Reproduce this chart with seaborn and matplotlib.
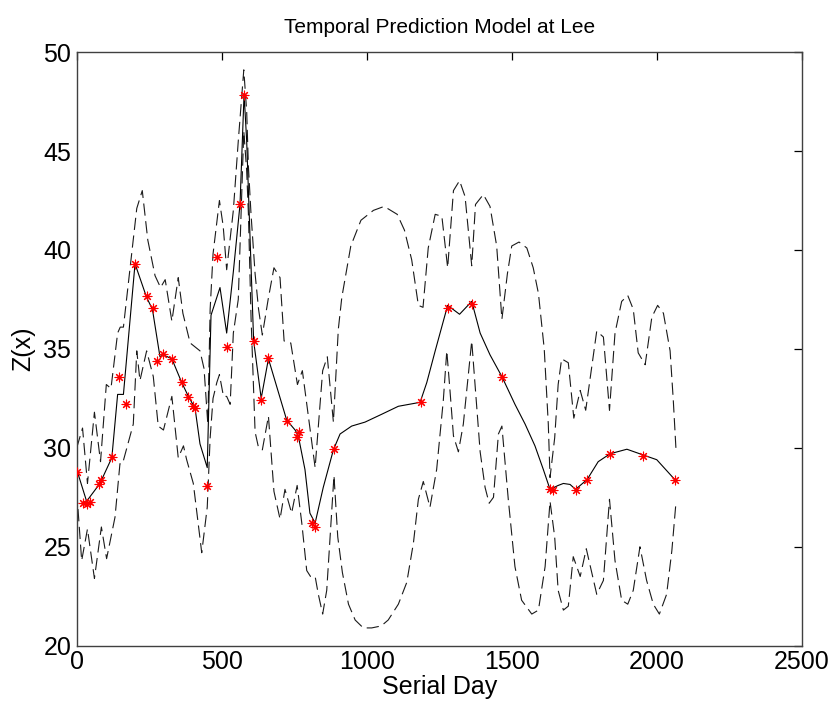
import matplotlib
matplotlib.use("Agg")
import matplotlib.pyplot as plt
import seaborn as sns

# Observed values (red asterisks)
obs_day = [0, 23, 35, 46, 78, 82, 121, 147, 170, 202, 242, 262, 276, 299, 329,
           363, 384, 402, 407, 450, 482, 519, 563, 577, 610, 637, 661, 726, 758,
           767, 810, 822, 887, 1187, 1279, 1363, 1467, 1632, 1643, 1720, 1760,
           1839, 1951, 2062]
obs_z = [28.8, 27.2, 27.15, 27.25, 28.15, 28.35, 29.55, 33.57, 32.2, 39.31, 37.68,
         37.07, 34.39, 34.73, 34.51, 33.33, 32.58, 32.1, 31.99, 28.08, 39.65, 35.08,
         42.34, 47.85, 35.42, 32.43, 34.53, 31.35, 30.56, 30.81, 26.21, 25.98, 29.93,
         32.32, 37.09, 37.29, 33.59, 27.91, 27.86, 27.86, 28.4, 29.68, 29.6, 28.37]

# Kriging prediction (solid line)
pred_day = [0, 34, 80, 121, 141, 161, 201, 241, 261, 287, 298, 328, 362, 385, 408,
            425, 450, 463, 494, 517, 540, 563, 577, 586, 610, 636, 661, 724, 753,
            764, 787, 804, 822, 850, 885, 908, 948, 994, 1052, 1109, 1184, 1207,
            1236, 1279, 1320, 1362, 1391, 1425, 1466, 1511, 1546, 1580, 1609, 1632,
            1660, 1678, 1701, 1720, 1760, 1798, 1839, 1897, 1951, 2000, 2062]
pred_z = [28.9, 27.3, 28.2, 29.5, 32.7, 32.7, 39.3, 37.6, 37.0, 34.6, 34.7, 34.5,
          33.3, 32.6, 32.0, 30.2, 29.0, 36.7, 38.1, 35.8, 38.9, 42.3, 47.9, 45.5,
          35.4, 32.5, 34.5, 31.4, 30.9, 30.6, 28.9, 26.7, 26.2, 28.0, 29.9, 30.7,
          31.1, 31.3, 31.7, 32.1, 32.3, 33.3, 34.9, 37.2, 36.75, 37.4, 35.8, 34.7,
          33.6, 32.2, 31.2, 30.1, 28.9, 27.9, 28.1, 28.2, 28.15, 27.9, 28.4, 29.3,
          29.7, 29.93, 29.65, 29.4, 28.4]

# Upper confidence bound (dashed)
upper_day = [0, 20, 37, 61, 82, 102, 118, 141, 150, 161, 207, 226, 245, 270, 289,
             305, 328, 350, 366, 391, 425, 439, 452, 460, 470, 492, 505, 517, 540,
             557, 576, 586, 592, 601, 615, 627, 640, 660, 680, 701, 715, 738, 761,
             778, 822, 848, 864, 885, 902, 914, 945, 980, 1023, 1060, 1105, 1130,
             1155, 1178, 1194, 1212, 1236, 1259, 1279, 1299, 1320, 1339, 1362, 1375,
             1402, 1425, 1448, 1466, 1485, 1500, 1525, 1552, 1574, 1592, 1612, 1626,
             1632, 1648, 1660, 1672, 1695, 1714, 1736, 1755, 1793, 1816, 1837, 1856,
             1879, 1900, 1919, 1936, 1960, 1983, 2003, 2023, 2046, 2057, 2066]
upper_z = [30.0, 31.0, 28.2, 31.8, 29.3, 33.2, 33.0, 35.8, 36.1, 36.1, 42.1, 43.0,
           40.5, 38.7, 38.1, 38.5, 36.4, 38.6, 36.8, 35.3, 34.9, 34.0, 31.2, 37.0,
           39.8, 42.5, 41.2, 39.0, 42.0, 45.5, 49.1, 47.0, 44.2, 41.8, 38.8, 37.0,
           35.7, 37.5, 39.1, 38.6, 35.4, 35.3, 33.2, 33.9, 29.0, 33.9, 34.6, 31.3,
           36.0, 37.6, 40.2, 41.5, 42.0, 42.2, 41.8, 41.0, 39.5, 37.2, 37.1, 40.1,
           41.8, 41.7, 39.1, 43.0, 43.5, 42.7, 39.2, 42.3, 42.8, 42.2, 40.2, 36.5,
           38.8, 40.2, 40.4, 40.1, 39.1, 37.8, 35.0, 31.2, 28.5, 30.5, 33.2, 34.5,
           34.3, 31.5, 32.9, 31.9, 35.9, 35.6, 31.9, 35.8, 37.4, 37.7, 37.0, 34.8,
           34.2, 36.6, 37.2, 36.8, 34.9, 32.4, 30.0]

# Lower confidence bound (dashed)
lower_day = [0, 17, 37, 61, 85, 103, 132, 149, 158, 195, 207, 218, 241, 264, 281,
             299, 328, 350, 368, 379, 402, 431, 450, 460, 470, 483, 492, 506, 517,
             529, 540, 557, 576, 586, 592, 601, 615, 627, 640, 661, 680, 701, 718,
             741, 760, 776, 793, 806, 822, 833, 848, 862, 887, 900, 916, 937, 960,
             988, 1017, 1050, 1074, 1109, 1138, 1161, 1178, 1195, 1218, 1241, 1264,
             1276, 1287, 1299, 1316, 1333, 1362, 1391, 1408, 1422, 1437, 1454, 1466,
             1488, 1511, 1534, 1569, 1592, 1615, 1632, 1648, 1660, 1678, 1695, 1712,
             1724, 1736, 1757, 1793, 1816, 1837, 1856, 1879, 1900, 1919, 1942, 1965,
             1988, 2009, 2034, 2052, 2066]
lower_z = [27.8, 24.3, 25.9, 23.4, 26.0, 24.4, 26.5, 29.2, 29.2, 31.2, 34.9, 33.4,
           34.9, 33.6, 31.1, 30.9, 32.6, 29.5, 30.1, 29.4, 28.2, 24.7, 27.0, 30.5,
           32.5, 33.3, 33.7, 32.6, 32.6, 32.2, 35.8, 37.5, 46.0, 44.0, 41.8, 36.6,
           30.8, 30.0, 29.9, 31.6, 27.8, 26.4, 27.9, 26.7, 28.1, 26.2, 23.8, 23.5,
           23.5, 22.6, 21.6, 22.8, 28.6, 25.5, 23.7, 22.1, 21.3, 20.9, 20.9, 21.0,
           21.3, 22.1, 23.2, 25.2, 27.4, 28.3, 27.0, 28.9, 32.4, 34.9, 32.9, 30.6,
           29.8, 31.2, 35.4, 29.8, 28.0, 27.2, 27.5, 30.7, 31.1, 27.4, 24.0, 22.3,
           21.6, 21.8, 24.0, 27.3, 25.5, 22.8, 21.8, 22.0, 24.5, 24.0, 23.5, 24.9,
           22.6, 23.3, 27.4, 24.3, 22.3, 22.1, 22.8, 25.0, 23.3, 22.1, 21.6, 22.6,
           24.8, 27.2]

x_ticks = [0, 500, 1000, 1500, 2000, 2500]
y_ticks = [20, 25, 30, 35, 40, 45, 50]

sns.set_theme(style="white")
plt.rcParams["font.family"] = ["Liberation Sans", "DejaVu Sans"]
plt.rcParams["text.color"] = "black"
plt.rcParams["axes.labelcolor"] = "black"

fig = plt.figure(figsize=(8.35, 7.17), dpi=100)
ax = fig.add_axes([0.0919, 0.0994, 0.8683, 0.828])

dash_style = (0, (11, 5))
sns.lineplot(x=upper_day, y=upper_z, ax=ax, sort=False, estimator=None,
             color="#1a1a1a", linewidth=0.8, linestyle=dash_style)
sns.lineplot(x=lower_day, y=lower_z, ax=ax, sort=False, estimator=None,
             color="#1a1a1a", linewidth=0.8, linestyle=dash_style)
sns.lineplot(x=pred_day, y=pred_z, ax=ax, sort=False, estimator=None,
             color="black", linewidth=0.8)
sns.scatterplot(x=obs_day, y=obs_z, ax=ax, marker=(8, 2, 0), color="red",
                s=40, linewidth=0.8, zorder=5)

ax.set_xlim(0, 2500)
ax.set_ylim(20, 50)
ax.set_xticks(x_ticks)
ax.set_yticks(y_ticks)
ax.tick_params(direction="in", top=True, right=True, length=6, width=0.9,
               labelsize=18, colors="black")
ax.tick_params(axis="x", pad=3)
ax.tick_params(axis="y", pad=4)
for sp in ax.spines.values():
    sp.set_color("#404040")
    sp.set_linewidth(1.0)

ax.set_xlabel("Serial Day", fontsize=18, labelpad=1, color="black")
ax.set_ylabel("Z(x)", fontsize=18, labelpad=6, color="black")
ax.set_title("Temporal Prediction Model at Lee", fontsize=15, pad=14, color="black")

fig.savefig("out.png", dpi=100, facecolor="white")
